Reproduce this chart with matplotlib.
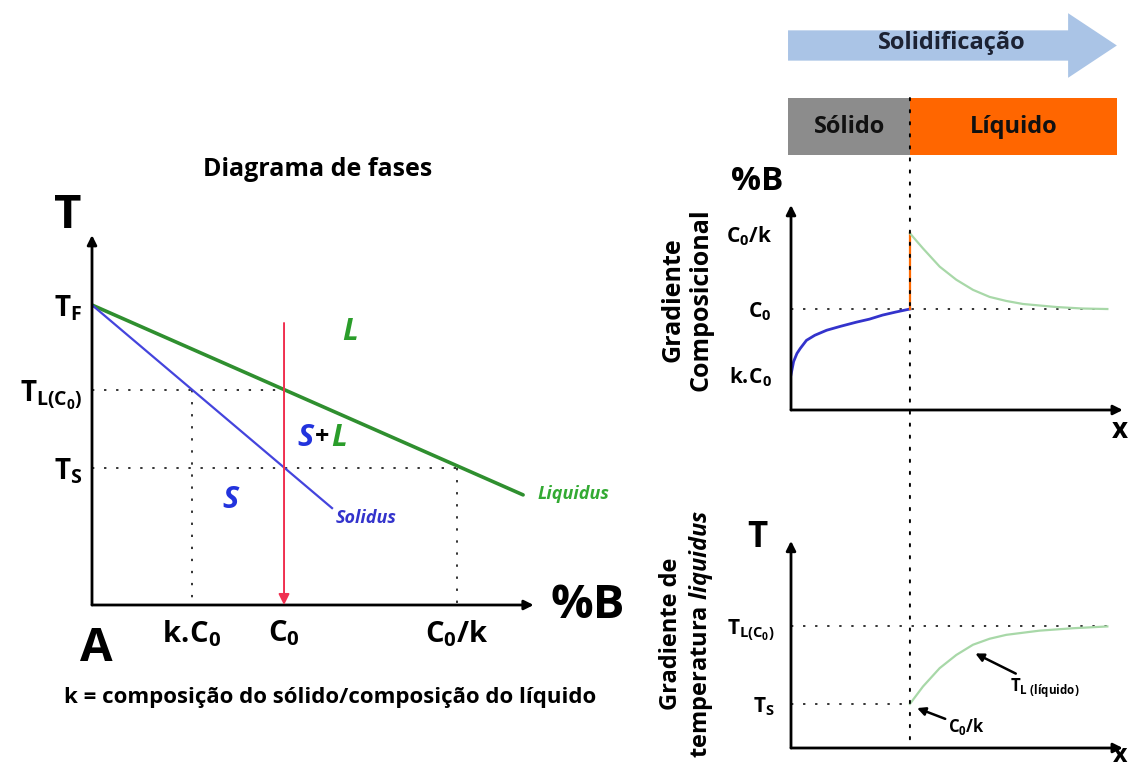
import matplotlib
matplotlib.use("Agg")
import matplotlib.pyplot as plt
from matplotlib.patches import Rectangle, FancyArrow, ConnectionPatch

plt.rcParams['font.family'] = ['Open Sans', 'DejaVu Sans']
plt.rcParams['font.weight'] = 'bold'
plt.rcParams['mathtext.fontset'] = 'custom'
plt.rcParams['mathtext.rm'] = 'Open Sans:bold'
plt.rcParams['mathtext.it'] = 'Open Sans:italic:bold'
plt.rcParams['mathtext.bf'] = 'Open Sans:bold'

# ---------------- data: phase diagram ----------------
TF = 1.0
TL_C0 = 0.717
TS = 0.457
kC0 = 0.52
C0 = 1.0
C0_k = 1.90
liquidus_x = [0.0, 2.245]
liquidus_T = [1.0, 0.367]
solidus_x = [0.0, 1.25]
solidus_T = [1.0, 0.323]
phase_xticks = [kC0, C0, C0_k]
phase_xlabels = [r'$\mathrm{k.\!C_0}$', r'$\mathrm{C_0}$', r'$\mathrm{C_0/k}$']
phase_yticks = [TS, TL_C0, TF]
phase_ylabels = [r'$\mathrm{T_S}$', r'$\mathrm{T_{L(C_0)}}$', r'$\mathrm{T_F}$']

# ---------------- data: composition profile ----------------
comp_ticks = [0.35, 1.0, 1.75]
comp_labels = [r'$\mathrm{k.\!C_0}$', r'$\mathrm{C_0}$', r'$\mathrm{C_0/k}$']
interface_x = 1.0
solid_x = [0.0, 0.022, 0.05, 0.078, 0.13, 0.20, 0.30, 0.42, 0.55, 0.66, 0.77, 0.88, 1.0]
solid_c = [0.35, 0.48, 0.56, 0.61, 0.69, 0.74, 0.79, 0.83, 0.87, 0.90, 0.94, 0.97, 1.0]
liq_x = [1.0, 1.11, 1.25, 1.39, 1.53, 1.67, 1.81, 1.95, 2.23, 2.45, 2.66]
liq_c = [1.75, 1.60, 1.42, 1.29, 1.19, 1.12, 1.08, 1.05, 1.02, 1.005, 1.0]

# ---------------- data: liquidus temperature profile ----------------
temp_ticks = [TS, TL_C0]
temp_labels = [r'$\mathrm{T_S}$', r'$\mathrm{T_{L(C_0)}}$']
liqT_x = [1.0, 1.11, 1.25, 1.39, 1.53, 1.67, 1.81, 2.09, 2.37, 2.66]
liqT_T = [0.457, 0.515, 0.576, 0.620, 0.654, 0.674, 0.687, 0.701, 0.709, 0.715]

W, H = 1130, 771
fig = plt.figure(figsize=(11.3, 7.71), dpi=100)
fig.patch.set_facecolor('white')


def rect(x0, y0, x1, y1):
    return [x0 / W, 1 - y0 / H, (x1 - x0) / W, (y0 - y1) / H]


def clean(ax):
    for s in ax.spines.values():
        s.set_visible(False)
    ax.tick_params(length=0)
    ax.patch.set_alpha(0)


def axis_arrows(ax, x0, y0, xend, yend):
    ap = dict(arrowstyle='-|>', lw=2, color='black', mutation_scale=14,
              shrinkA=0, shrinkB=0)
    ax.annotate('', xy=(xend, y0), xytext=(x0, y0), arrowprops=ap,
                annotation_clip=False)
    ax.annotate('', xy=(x0, yend), xytext=(x0, y0), arrowprops=ap,
                annotation_clip=False)


DOT = (0, (1.2, 5))

# ================= left: phase diagram =================
axL = fig.add_axes(rect(92, 605, 540, 230))
clean(axL)
axL.set_xlim(0, 2.333)
axL.set_ylim(0, 1.25)
axis_arrows(axL, 0, 0, 2.30, 1.233)

axL.set_xticks(phase_xticks, phase_xlabels, fontsize=21)
axL.set_yticks(phase_yticks, phase_ylabels, fontsize=20)
axL.tick_params(axis='x', pad=10)
axL.tick_params(axis='y', pad=7)

# guide lines
axL.plot([0, C0], [TL_C0, TL_C0], color='#333333', lw=1.4, ls=DOT)
axL.plot([kC0, kC0], [TL_C0, 0], color='#333333', lw=1.4, ls=DOT)
axL.plot([0, C0_k], [TS, TS], color='#333333', lw=1.4, ls=DOT)
axL.plot([C0_k, C0_k], [TS, 0], color='#333333', lw=1.4, ls=DOT)

axL.plot(liquidus_x, liquidus_T, color='#2f8f2f', lw=2.6, solid_capstyle='round')
axL.plot(solidus_x, solidus_T, color='#4444dd', lw=1.6)

axL.annotate('', xy=(C0, 0.0), xytext=(C0, 0.94),
             arrowprops=dict(arrowstyle='-|>', lw=1.4, color='#f03050',
                             mutation_scale=16, shrinkA=0, shrinkB=0))

axL.text(-0.125, 1.30, 'T', fontsize=34, ha='center', va='center')
axL.text(0.02, -0.145, 'A', fontsize=34, ha='center', va='center')
axL.text(2.58, 0.0, '%B', fontsize=34, ha='center', va='center')
axL.text(1.177, 1.45, 'Diagrama de fases', fontsize=18, ha='center', va='center')
axL.text(1.24, -0.307, 'k = composição do sólido/composição do líquido',
         fontsize=16, ha='center', va='center')

axL.text(1.344, 0.91, 'L', fontsize=22, style='italic', color='#2a9d2a',
         ha='center', va='center')
axL.text(1.11, 0.557, 'S', fontsize=22, style='italic', color='#2233dd',
         ha='center', va='center')
axL.text(1.198, 0.557, '+', fontsize=18, color='black', ha='center', va='center')
axL.text(1.285, 0.557, 'L', fontsize=22, style='italic', color='#2a9d2a',
         ha='center', va='center')
axL.text(0.72, 0.35, 'S', fontsize=22, style='italic', color='#2233dd',
         ha='center', va='center')
axL.text(2.318, 0.37, 'Liquidus', fontsize=13, style='italic', color='#33aa33',
         ha='left', va='center')
axL.text(1.27, 0.29, 'Solidus', fontsize=13, style='italic', color='#3333cc',
         ha='left', va='center')

# ================= right top: composition =================
axC = fig.add_axes(rect(791, 410, 1124, 202))
clean(axC)
axC.set_xlim(0, 2.80)
axC.set_ylim(0, 2.06)
axis_arrows(axC, 0, 0, 2.79, 2.03)
axC.set_xticks([])
axC.set_yticks(comp_ticks, comp_labels, fontsize=15)
axC.tick_params(axis='y', pad=14)

axC.plot([0, 2.66], [C0, C0], color='#333333', lw=1.4, ls=DOT)
axC.plot(solid_x, solid_c, color='#3333cc', lw=2)
axC.plot([interface_x, interface_x], [C0, comp_ticks[2]], color='#ff6a00', lw=1.6)
axC.plot(liq_x, liq_c, color='#a8d8a8', lw=1.6)

axC.text(-0.286, 2.26, '%B', fontsize=24, ha='center', va='center')
axC.text(2.765, -0.2, 'x', fontsize=20, ha='center', va='center')
axC.text(-0.874, 1.09, 'Gradiente\nComposicional', fontsize=18, rotation=90,
         ha='center', va='center', linespacing=1.15)

# header boxes and solidification arrow
axC.add_patch(Rectangle((-0.025, 2.525), interface_x + 0.025, 0.565,
                        facecolor='#8c8c8c', edgecolor='none', clip_on=False))
axC.add_patch(Rectangle((interface_x, 2.525), 1.74, 0.565,
                        facecolor='#ff6600', edgecolor='none', clip_on=False))
axC.text(0.49, 2.80, 'Sólido', fontsize=17, ha='center', va='center', color='#111111')
axC.text(1.87, 2.80, 'Líquido', fontsize=17, ha='center', va='center', color='#111111')
axC.add_patch(FancyArrow(-0.025, 3.61, 2.765, 0, width=0.30, head_width=0.64,
                         head_length=0.41, length_includes_head=True,
                         facecolor='#aac4e6', edgecolor='none', clip_on=False))
axC.text(1.35, 3.63, 'Solidificação', fontsize=17, ha='center', va='center',
         color='#1c2233')

# ================= right bottom: liquidus temperature =================
axT = fig.add_axes(rect(791, 748, 1124, 540))
clean(axT)
axT.set_xlim(0, 2.80)
axT.set_ylim(0.31, 1.003)
axis_arrows(axT, 0, 0.31, 2.79, 1.0)
axT.set_xticks([])
axT.set_yticks(temp_ticks, temp_labels, fontsize=15)
axT.tick_params(axis='y', pad=12)

axT.plot([0, 2.66], [TL_C0, TL_C0], color='#333333', lw=1.4, ls=DOT)
axT.plot([0, interface_x], [TS, TS], color='#333333', lw=1.4, ls=DOT)
axT.plot(liqT_x, liqT_T, color='#a8d8a8', lw=1.6)

axT.text(-0.286, 1.01, 'T', fontsize=25, ha='center', va='center')
axT.text(2.765, 0.285, 'x', fontsize=18, ha='center', va='center')
axT.text(-0.874, 0.69, 'Gradiente de\ntemperatura $\\mathit{liquidus}$', fontsize=17,
         rotation=90, ha='center', va='center', linespacing=1.2)

ap2 = dict(arrowstyle='-|>', lw=1.8, color='black', mutation_scale=12,
           shrinkA=0, shrinkB=0)
axT.annotate(r'$\mathrm{T_{L\ (líquido)}}$', xy=(1.55, 0.625), xytext=(1.84, 0.51),
             fontsize=12, ha='left', va='center', arrowprops=ap2)
axT.annotate(r'$\mathrm{C_0/k}$', xy=(1.06, 0.443), xytext=(1.32, 0.38),
             fontsize=12, ha='left', va='center', arrowprops=ap2)

# interface dotted line spanning both right panels
con = ConnectionPatch(xyA=(interface_x, 3.09), coordsA=axC.transData,
                      xyB=(interface_x, 0.337), coordsB=axT.transData,
                      color='black', lw=1.4, ls=DOT)
fig.add_artist(con)

fig.savefig('out.png', dpi=100, facecolor='white')
